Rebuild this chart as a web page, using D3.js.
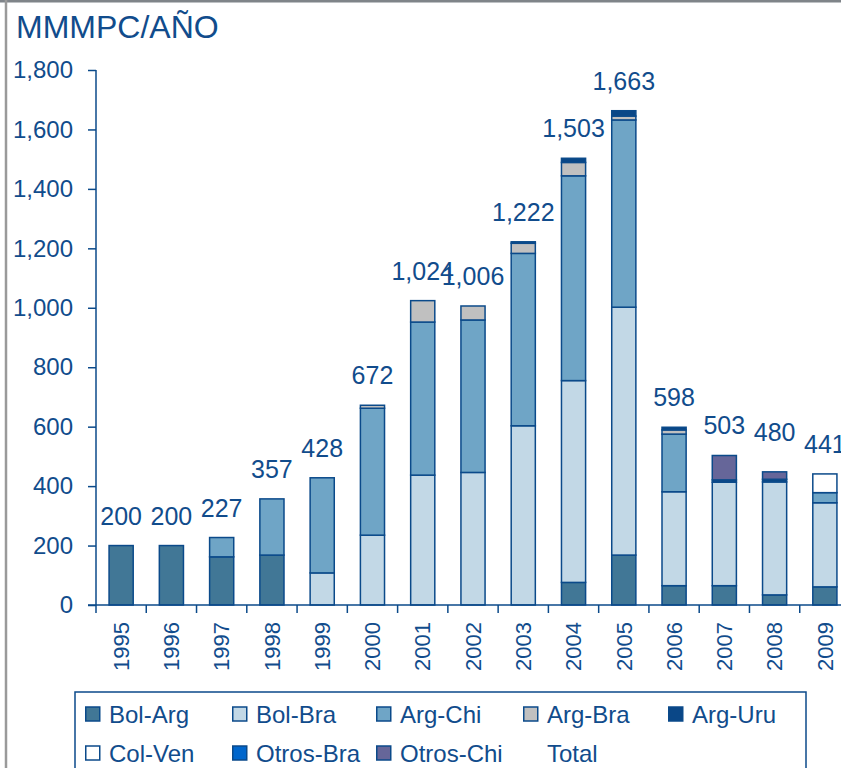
<!DOCTYPE html>
<html>
<head>
<meta charset="utf-8">
<script src="https://cdn.jsdelivr.net/npm/d3@7"></script>
<style>
  body { margin: 0; background: #fff; }
  svg { display: block; font-family: "Liberation Sans", Arial, sans-serif; }
</style>
</head>
<body>
<script>
// data (MMMPC per year)
var years    = ["1995","1996","1997","1998","1999","2000","2001","2002","2003","2004","2005","2006","2007","2008","2009"];
var bolArg   = [200, 200, 162, 168,   0,   0,   0,   0,   0,  76, 168,  65,  65,  34,  61];
var bolBra   = [  0,   0,   0,   0, 108, 235, 437, 446, 603, 679, 834, 316, 348, 380, 283];
var argChi   = [  0,   0,  65, 189, 320, 427, 515, 513, 580, 689, 630, 194,   0,   0,  34];
var argBra   = [  0,   0,   0,   0,   0,  10,  72,  47,  34,  45,  13,  14,   0,   0,   0];
var argUru   = [  0,   0,   0,   0,   0,   0,   0,   0,   5,  14,  18,   9,   8,   9,   0];
var colVen   = [  0,   0,   0,   0,   0,   0,   0,   0,   0,   0,   0,   0,   0,   0,  63];
var otrosBra = [  0,   0,   0,   0,   0,   0,   0,   0,   0,   0,   0,   0,   0,   0,   0];
var otrosChi = [  0,   0,   0,   0,   0,   0,   0,   0,   0,   0,   0,   0,  82,  25,   0];
var totals   = [200, 200, 227, 357, 428, 672, 1024, 1006, 1222, 1503, 1663, 598, 503, 480, 441];
var yTicks   = [0, 200, 400, 600, 800, 1000, 1200, 1400, 1600, 1800];

var seriesNames = ["Bol-Arg","Bol-Bra","Arg-Chi","Arg-Bra","Arg-Uru","Col-Ven","Otros-Bra","Otros-Chi"];
var seriesVals  = [bolArg, bolBra, argChi, argBra, argUru, colVen, otrosBra, otrosChi];
var colors = ["#417796","#c2d8e6","#6fa5c6","#c0c0c0","#0a4787","#ffffff","#0066cc","#666699"];

var ink = "#114c8c";     // text colour
var edge = "#0b4a8a";    // outlines / axes

var width = 841, height = 768;
var svg = d3.select("body").append("svg")
    .attr("width", width)
    .attr("height", height);

// build table for d3.stack
var table = years.map(function(y, i) {
  var row = {year: y};
  seriesNames.forEach(function(n, k) { row[n] = seriesVals[k][i]; });
  return row;
});

var x = d3.scaleBand()
    .domain(years)
    .range([96, 850])
    .paddingInner(0.52)
    .paddingOuter(0.26);

var y = d3.scaleLinear()
    .domain([0, 1800])
    .range([605, 70]);

// outer frame (gray lines top and left)
svg.append("line").attr("x1", 0).attr("x2", width).attr("y1", 1).attr("y2", 1)
    .attr("stroke", "#7f8489").attr("stroke-width", 3);
svg.append("line").attr("x1", 6).attr("x2", 6).attr("y1", 0).attr("y2", height)
    .attr("stroke", "#9a9a9a").attr("stroke-width", 2.5);

// title
svg.append("text")
    .attr("x", 16)
    .attr("y", 38)
    .attr("fill", ink)
    .attr("font-size", "32px")
    .text("MMMPC/AÑO");

// stacked bars
var stacked = d3.stack().keys(seriesNames)(table);

var layers = svg.selectAll("g.layer")
  .data(stacked)
  .enter().append("g")
    .attr("class", "layer")
    .attr("fill", function(d, i) { return colors[i]; });

layers.selectAll("rect")
  .data(function(d) { return d.filter(function(s) { return s[1] - s[0] > 0; }); })
  .enter().append("rect")
    .attr("x", function(d) { return x(d.data.year); })
    .attr("width", x.bandwidth())
    .attr("y", function(d) { return y(d[1]); })
    .attr("height", function(d) { return y(d[0]) - y(d[1]); })
    .attr("stroke", edge)
    .attr("stroke-width", 1.5);

// y axis
var yAxis = svg.append("g")
    .attr("transform", "translate(96,0)")
    .call(d3.axisLeft(y).tickValues(yTicks).tickFormat(d3.format(",")).tickSize(8).tickPadding(15));
yAxis.select(".domain").attr("stroke", edge).attr("stroke-width", 1.5).attr("d", "M0," + y(1800) + "V" + y(0));
yAxis.selectAll(".tick line").attr("stroke", edge).attr("stroke-width", 1.5);
yAxis.selectAll("text")
    .attr("fill", ink)
    .attr("font-size", "24px")
    .attr("font-family", "Liberation Sans, Arial, sans-serif");

// x axis: line plus ticks between categories
var xg = svg.append("g");
xg.append("line")
    .attr("x1", 88).attr("x2", width)
    .attr("y1", y(0)).attr("y2", y(0))
    .attr("stroke", edge).attr("stroke-width", 1.5);
xg.selectAll("line.sep")
  .data(years)
  .enter().append("line")
    .attr("class", "sep")
    .attr("x1", function(d) { return x(d) - x.step() * x.paddingOuter(); })
    .attr("x2", function(d) { return x(d) - x.step() * x.paddingOuter(); })
    .attr("y1", y(0))
    .attr("y2", y(0) + 8)
    .attr("stroke", edge).attr("stroke-width", 1.5);
xg.selectAll("text")
  .data(years)
  .enter().append("text")
    .attr("transform", function(d) {
      return "translate(" + (x(d) + x.bandwidth() / 2) + "," + (y(0) + 17) + ") rotate(-90)";
    })
    .attr("text-anchor", "end")
    .attr("dy", "0.35em")
    .attr("fill", ink)
    .attr("font-size", "22px")
    .text(function(d) { return d; });

// total labels
svg.selectAll("text.total")
  .data(totals)
  .enter().append("text")
    .attr("class", "total")
    .attr("x", function(d, i) { return x(years[i]) + x.bandwidth() / 2; })
    .attr("y", function(d) { return y(d) - 21; })
    .attr("text-anchor", "middle")
    .attr("fill", ink)
    .attr("font-size", "25px")
    .text(function(d) { return d3.format(",")(d); });

// legend
var legend = svg.append("g");
legend.append("rect")
    .attr("x", 75).attr("y", 692)
    .attr("width", 731).attr("height", 100)
    .attr("fill", "none")
    .attr("stroke", edge).attr("stroke-width", 1.5);

var legendItems = seriesNames.concat(["Total"]);
var colX = [85, 232, 376, 523, 668];
var rowY = [714, 753];

var item = legend.selectAll("g.item")
  .data(legendItems)
  .enter().append("g")
    .attr("class", "item")
    .attr("transform", function(d, i) {
      return "translate(" + colX[i % 5] + "," + rowY[Math.floor(i / 5)] + ")";
    });

item.filter(function(d, i) { return i < seriesNames.length; })
  .append("rect")
    .attr("x", 0.75).attr("y", -7)
    .attr("width", 14).attr("height", 14)
    .attr("fill", function(d, i) { return colors[i]; })
    .attr("stroke", edge).attr("stroke-width", 1.5);

item.append("text")
    .attr("x", 24)
    .attr("dy", "0.36em")
    .attr("fill", ink)
    .attr("font-size", "24px")
    .text(function(d) { return d; });
</script>
</body>
</html>
